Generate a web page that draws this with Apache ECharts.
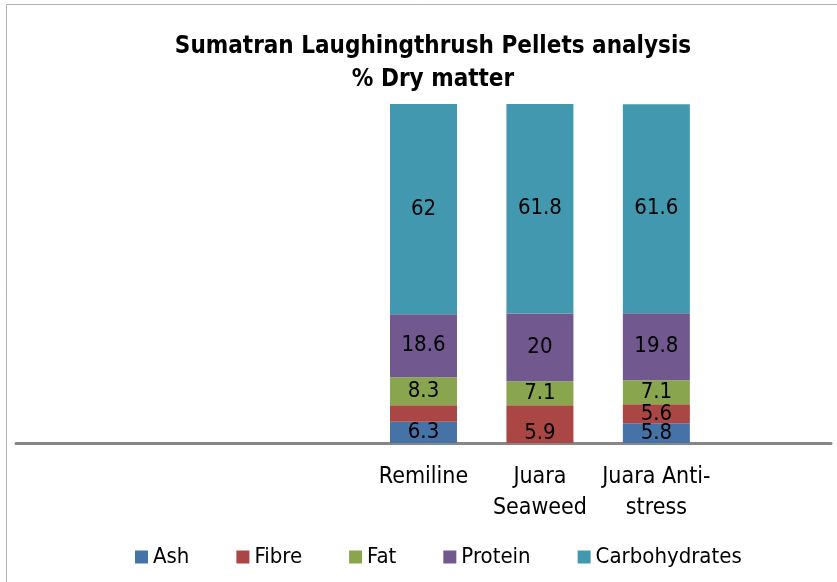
<!DOCTYPE html>
<html>
<head>
<meta charset="utf-8">
<script src="https://cdn.jsdelivr.net/npm/echarts@6/dist/echarts.min.js"></script>
<style>
  html, body { margin: 0; padding: 0; background: #fff; }
  #chart { width: 837px; height: 582px; }
</style>
</head>
<body>
<div id="chart"></div>
<script>
const categories = ['', ' ', '  ', 'Remiline', 'Juara\nSeaweed', 'Juara Anti-\nstress', '   ']
const ash = [null, null, null, 6.3, 5.9, 5.8, null]
const fibre = [null, null, null, 4.8, 5.2, 5.6, null]
const fat = [null, null, null, 8.3, 7.1, 7.1, null]
const protein = [null, null, null, 18.6, 20, 19.8, null]
const carbohydrates = [null, null, null, 62, 61.8, 61.6, null]

const font = "'Liberation Sans Narrow', 'DejaVu Sans Condensed', sans-serif"
const colors = ['#4572A7', '#AA4643', '#89A54E', '#71588F', '#4198AF']

const chart = echarts.init(document.getElementById('chart'))

const makeSeries = (name, data, hideLabelAt, colorOverride) => ({
  name,
  type: 'bar',
  stack: 'total',
  barWidth: 67,
  data: data.map((v, i) => {
    if (v == null) return null
    const item = { value: v }
    if (hideLabelAt && hideLabelAt.includes(i)) item.label = { show: false }
    if (colorOverride && colorOverride[i]) item.itemStyle = { color: colorOverride[i] }
    return item
  }),
  label: {
    show: true,
    position: 'inside',
    color: '#000',
    fontFamily: font,
    fontSize: 22
  }
})

chart.setOption({
  animation: false,
  color: colors,
  title: {
    text: 'Sumatran Laughingthrush Pellets analysis\n% Dry matter',
    left: 428,
    top: 25,
    textAlign: 'center',
    textStyle: {
      fontFamily: font,
      fontWeight: 'bold',
      fontSize: 24,
      lineHeight: 33,
      color: '#000'
    }
  },
  graphic: [{
    type: 'rect',
    shape: { x: 6.5, y: 4.5, width: 840, height: 600 },
    style: { fill: 'none', stroke: '#b0b0b0', lineWidth: 1 }
  }],
  legend: {
    bottom: 9,
    left: 130,
    itemWidth: 13,
    itemHeight: 13,
    itemGap: 47,
    icon: 'rect',
    textStyle: { fontFamily: font, fontSize: 22, color: '#000' }
  },
  grid: { left: 16, right: 6, top: 104, bottom: 139 },
  xAxis: {
    type: 'category',
    data: categories,
    axisTick: { show: false },
    axisLine: { lineStyle: { color: '#868686', width: 3 } },
    axisLabel: {
      interval: 0,
      color: '#000',
      fontFamily: font,
      fontSize: 23,
      lineHeight: 31,
      margin: 19
    }
  },
  yAxis: {
    type: 'value',
    min: 0,
    max: 100,
    show: false
  },
  series: [
    makeSeries('Ash', ash, null, { 4: colors[1] }),
    makeSeries('Fibre', fibre, [3, 4]),
    makeSeries('Fat', fat),
    makeSeries('Protein', protein),
    makeSeries('Carbohydrates', carbohydrates)
  ]
})
</script>
</body>
</html>
